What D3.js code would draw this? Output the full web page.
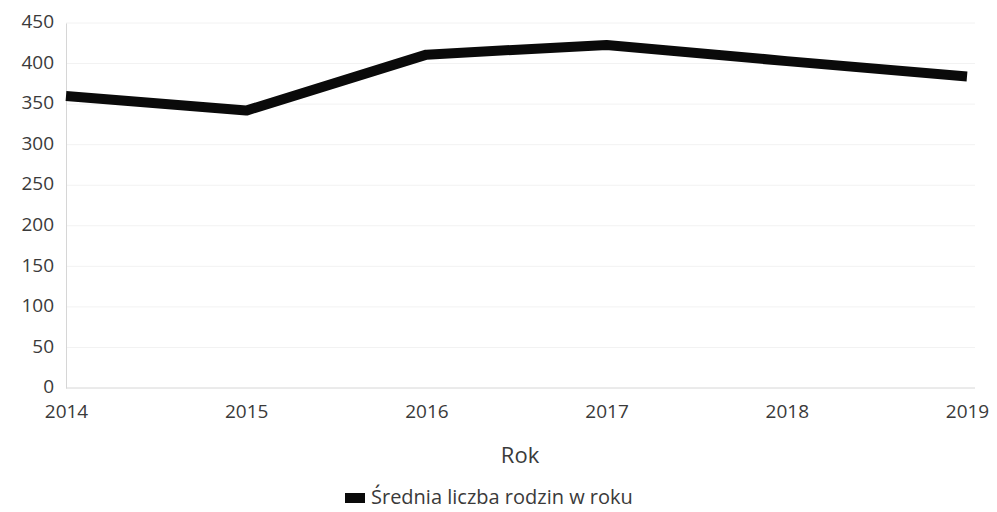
<!DOCTYPE html>
<html><head><meta charset="utf-8">
<script src="https://cdn.jsdelivr.net/npm/d3@7"></script>
<style>body{margin:0;background:#fff}svg{display:block}text{font-family:"Open Sans",sans-serif}</style>
</head><body>
<svg id="c" width="997" height="512"></svg>
<script>
const years = ["2014","2015","2016","2017","2018","2019"];
const values = [360, 342, 411, 423, 403, 384];
const yTicks = [0,50,100,150,200,250,300,350,400,450];
const seriesName = "Średnia liczba rodzin w roku";
const xTitle = "Rok";

const svg = d3.select("#c");
const x = d3.scalePoint().domain(years).range([66, 967]);
const y = d3.scaleLinear().domain([0,450]).range([388, 23]);

// gridlines
svg.append("g").selectAll("line").data(yTicks.filter(d=>d>0)).join("line")
  .attr("x1",66).attr("x2",975).attr("y1",d=>y(d)).attr("y2",d=>y(d))
  .attr("stroke","#f2f2f2").attr("stroke-width",1);

// y axis
const ya = svg.append("g").attr("transform","translate(66,0)")
  .call(d3.axisLeft(y).tickValues(yTicks).tickSize(0).tickPadding(12));
ya.select(".domain").attr("stroke","#d6d6d6");
ya.selectAll("text").attr("font-size",19).attr("fill","#3a3a3a").attr("font-family","Open Sans").attr("dy","0.25em");

// x axis
const xa = svg.append("g").attr("transform","translate(0,388)")
  .call(d3.axisBottom(x).tickSize(0).tickPadding(17));
xa.select(".domain").attr("stroke","#d6d6d6").attr("d","M66,0H975");
xa.selectAll("text").attr("font-size",19).attr("fill","#3a3a3a").attr("font-family","Open Sans");

// line
svg.append("path").datum(values)
  .attr("fill","none").attr("stroke","#0a0a0a").attr("stroke-width",10)
  .attr("stroke-linejoin","round")
  .attr("d", d3.line().x((d,i)=>x(years[i])).y(d=>y(d)));

// axis title
svg.append("text").attr("x",520).attr("y",463).attr("text-anchor","middle")
  .attr("font-size",22).attr("fill","#3a3a3a").text(xTitle);

// legend
svg.append("rect").attr("x",345).attr("y",493).attr("width",20).attr("height",10).attr("fill","#0a0a0a");
svg.append("text").attr("x",371).attr("y",504).attr("font-size",20).attr("fill","#3a3a3a").text(seriesName);
</script>
</body></html>
